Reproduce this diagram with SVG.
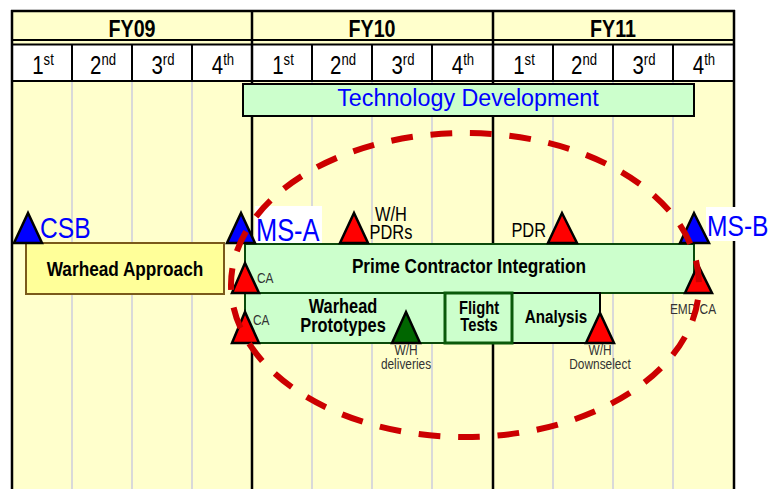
<svg xmlns="http://www.w3.org/2000/svg" width="775" height="489" viewBox="0 0 775 489">
<style>
text{font-family:"Liberation Sans",Arial,sans-serif}
.b{font-weight:bold}
.m{text-anchor:middle}
.tri{stroke:#000;stroke-width:2.5;stroke-linejoin:miter}
.red{fill:#ff0000}.blue{fill:#0000ff}.dg{fill:#006600}
.grid{stroke:#d9d9d9;stroke-width:2}
.blk{stroke:#000;stroke-width:2.5}
.hl{stroke:#000;stroke-width:2}
.q{font-size:25px;text-anchor:middle;fill:#000}
.sup{font-size:16px}
.small{font-size:14.5px;fill:#333;text-anchor:middle}
.ms{font-size:30px;fill:#0000ff}
.box{fill:#ccffcc}
</style>
<rect width="775" height="489" fill="#fff"/>
<g id="timeline">
<rect x="12" y="81" width="722" height="410" fill="#ffffcc"/>
<rect x="12" y="11" width="722" height="33" fill="#ffffcc"/>
<rect x="12" y="44" width="722" height="37" fill="#fff"/>
<g class="grid">
<line x1="72" y1="81" x2="72" y2="489"/><line x1="132" y1="81" x2="132" y2="489"/><line x1="192" y1="81" x2="192" y2="489"/>
<line x1="312" y1="81" x2="312" y2="489"/><line x1="372" y1="81" x2="372" y2="489"/><line x1="432" y1="81" x2="432" y2="489"/>
<line x1="553" y1="81" x2="553" y2="489"/><line x1="613" y1="81" x2="613" y2="489"/><line x1="673" y1="81" x2="673" y2="489"/>
</g>
<g class="blk">
<line x1="12" y1="10" x2="12" y2="489"/><line x1="734" y1="10" x2="734" y2="489"/>
<line x1="252" y1="11" x2="252" y2="489"/><line x1="493" y1="11" x2="493" y2="489"/>
<line x1="11" y1="11" x2="735" y2="11"/>
</g>
<g class="hl">
<line x1="12" y1="40" x2="734" y2="40"/><line x1="12" y1="44.5" x2="734" y2="44.5"/><line x1="12" y1="81" x2="734" y2="81"/>
<line x1="72" y1="44" x2="72" y2="81"/><line x1="132" y1="44" x2="132" y2="81"/><line x1="192" y1="44" x2="192" y2="81"/>
<line x1="312" y1="44" x2="312" y2="81"/><line x1="372" y1="44" x2="372" y2="81"/><line x1="432" y1="44" x2="432" y2="81"/>
<line x1="553" y1="44" x2="553" y2="81"/><line x1="613" y1="44" x2="613" y2="81"/><line x1="673" y1="44" x2="673" y2="81"/>
</g>
<g font-size="24" class="b">
<text class="m" transform="matrix(.82 0 0 1 132 37)">FY09</text>
<text class="m" transform="matrix(.82 0 0 1 372 37)">FY10</text>
<text class="m" transform="matrix(.82 0 0 1 613 37)">FY11</text>
</g>
<g>
<text class="q" transform="matrix(.82 0 0 1 43 74)">1<tspan class="sup" dy="-9">st</tspan></text>
<text class="q" transform="matrix(.82 0 0 1 103 74)">2<tspan class="sup" dy="-9">nd</tspan></text>
<text class="q" transform="matrix(.82 0 0 1 163 74)">3<tspan class="sup" dy="-9">rd</tspan></text>
<text class="q" transform="matrix(.82 0 0 1 223 74)">4<tspan class="sup" dy="-9">th</tspan></text>
<text class="q" transform="matrix(.82 0 0 1 283 74)">1<tspan class="sup" dy="-9">st</tspan></text>
<text class="q" transform="matrix(.82 0 0 1 343 74)">2<tspan class="sup" dy="-9">nd</tspan></text>
<text class="q" transform="matrix(.82 0 0 1 403 74)">3<tspan class="sup" dy="-9">rd</tspan></text>
<text class="q" transform="matrix(.82 0 0 1 463 74)">4<tspan class="sup" dy="-9">th</tspan></text>
<text class="q" transform="matrix(.82 0 0 1 524 74)">1<tspan class="sup" dy="-9">st</tspan></text>
<text class="q" transform="matrix(.82 0 0 1 584 74)">2<tspan class="sup" dy="-9">nd</tspan></text>
<text class="q" transform="matrix(.82 0 0 1 644 74)">3<tspan class="sup" dy="-9">rd</tspan></text>
<text class="q" transform="matrix(.82 0 0 1 704 74)">4<tspan class="sup" dy="-9">th</tspan></text>
</g>
</g>
<g id="technology-development">
<rect x="243" y="84" width="451" height="32" class="box" stroke="#000" stroke-width="2"/>
<text x="468" y="106" font-size="23.3" fill="#0000ff" text-anchor="middle">Technology Development</text>
</g>
<g id="warhead-approach">
<rect x="26" y="243" width="198" height="51" fill="#ffff99" stroke="#7a5a1a" stroke-width="2"/>
<text class="b m" font-size="21" transform="matrix(.82 0 0 1 125 276)">Warhead Approach</text>
</g>
<g id="prime-contractor-integration">
<rect x="245" y="244" width="449" height="49" class="box" stroke="#0a4a0a" stroke-width="2"/>
<text class="b m" font-size="21" transform="matrix(.82 0 0 1 469 273)">Prime Contractor Integration</text>
</g>
<g id="warhead-prototypes">
<rect x="245" y="293" width="200" height="50" class="box" stroke="#0a4a0a" stroke-width="2"/>
<text class="b m" font-size="20" transform="matrix(.82 0 0 1 343 313)">Warhead</text>
<text class="b m" font-size="20" transform="matrix(.82 0 0 1 343 332)">Prototypes</text>
</g>
<g id="analysis">
<rect x="512" y="293" width="88" height="50" class="box" stroke="#000" stroke-width="2"/>
<text class="b m" font-size="18.5" transform="matrix(.82 0 0 1 556 323)">Analysis</text>
</g>
<g id="flight-tests">
<rect x="445" y="293" width="67" height="50" class="box" stroke="#0a5a0a" stroke-width="3"/>
<text class="b m" font-size="18" transform="matrix(.82 0 0 1 479 314)">Flight</text>
<text class="b m" font-size="18" transform="matrix(.82 0 0 1 479 331)">Tests</text>
</g>
<g id="csb">
<polygon class="tri blue" points="14,243 42,243 28,213"/>
<text class="ms" font-size="29" transform="matrix(.82 0 0 1 40 238)">CSB</text>
</g>
<g id="ms-a">
<rect x="255" y="206" width="67" height="37" fill="#fff"/>
<polygon class="tri blue" points="227,243 255,243 241,213"/>
<text class="ms" style="font-size:31px" transform="matrix(.82 0 0 1 256 241)">MS-A</text>
</g>
<g id="wh-pdrs">
<polygon class="tri red" points="340,243 368,243 354,213"/>
<text class="m" font-size="20" transform="matrix(.82 0 0 1 391 221)">W/H</text>
<text class="m" font-size="20" transform="matrix(.82 0 0 1 391 239)">PDRs</text>
</g>
<g id="pdr">
<polygon class="tri red" points="548,243 577,243 562,213"/>
<text font-size="20" text-anchor="end" transform="matrix(.82 0 0 1 546 237)">PDR</text>
</g>
<g id="ms-b">
<rect x="706" y="207" width="69" height="34" fill="#fff"/>
<polygon class="tri blue" points="680,243 709,243 694,213"/>
<text class="ms" transform="matrix(.82 0 0 1 707 236)">MS-B</text>
</g>
<g id="ca-1">
<polygon class="tri red" points="232,293 259,293 245,263"/>
<text font-size="14.5" fill="#333" transform="matrix(.82 0 0 1 257 283)">CA</text>
</g>
<g id="ca-2">
<polygon class="tri red" points="232,343 259,343 245,312"/>
<text font-size="14.5" fill="#333" transform="matrix(.82 0 0 1 253 325)">CA</text>
</g>
<g id="wh-deliveries">
<polygon class="tri dg" points="392,343 420,343 406,312"/>
<text class="small" transform="matrix(.82 0 0 1 406 355)">W/H</text>
<text class="small" transform="matrix(.82 0 0 1 406 369)">deliveries</text>
</g>
<g id="wh-downselect">
<polygon class="tri red" points="586,343 614,343 600,313"/>
<text class="small" transform="matrix(.82 0 0 1 600 355)">W/H</text>
<text class="small" transform="matrix(.82 0 0 1 600 369)">Downselect</text>
</g>
<g id="emd-ca">
<polygon class="tri red" points="685,293 712,293 698,265"/>
<text class="small" transform="matrix(.82 0 0 1 693 314)">EMD CA</text>
</g>
<g id="connectors"></g>
<g id="focus-ellipse">
<ellipse cx="465" cy="285" rx="234" ry="152" fill="none" stroke="#cc0000" stroke-width="6" pathLength="1240" stroke-dasharray="22 18" stroke-dashoffset="25"/>
</g>
</svg>
